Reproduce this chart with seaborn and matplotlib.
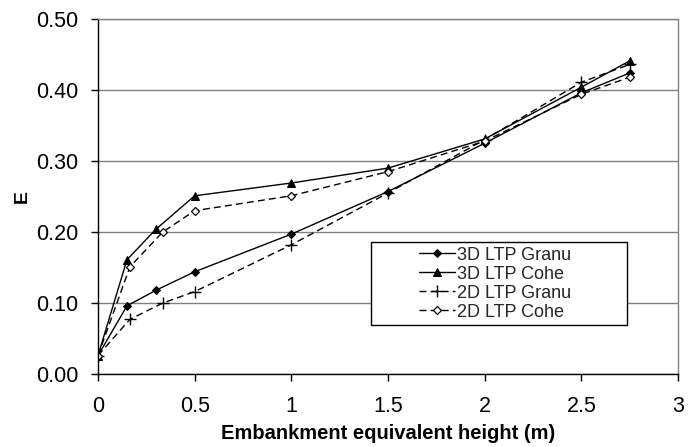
import matplotlib
matplotlib.use("Agg")
import matplotlib.pyplot as plt
from matplotlib.legend_handler import HandlerLine2D
import seaborn as sns
import pandas as pd

# Data
x_3d_granu = [0, 0.15, 0.30, 0.50, 1.0, 1.5, 2.0, 2.5, 2.75]
y_3d_granu = [0.026, 0.096, 0.118, 0.144, 0.197, 0.257, 0.325, 0.396, 0.424]

x_3d_cohe = [0, 0.15, 0.30, 0.50, 1.0, 1.5, 2.0, 2.5, 2.75]
y_3d_cohe = [0.026, 0.161, 0.204, 0.251, 0.269, 0.290, 0.331, 0.404, 0.441]

x_2d_granu = [0, 0.165, 0.335, 0.50, 1.0, 1.5, 2.0, 2.5, 2.75]
y_2d_granu = [0.026, 0.077, 0.100, 0.116, 0.182, 0.255, 0.330, 0.411, 0.436]

x_2d_cohe = [0, 0.165, 0.335, 0.50, 1.0, 1.5, 2.0, 2.5, 2.75]
y_2d_cohe = [0.026, 0.151, 0.200, 0.230, 0.251, 0.285, 0.328, 0.394, 0.418]

series_names = ["3D LTP Granu", "3D LTP Cohe", "2D LTP Granu", "2D LTP Cohe"]
x_ticks = [0, 0.5, 1, 1.5, 2, 2.5, 3]
x_tick_labels = ["0", "0.5", "1", "1.5", "2", "2.5", "3"]
y_ticks = [0.0, 0.1, 0.2, 0.3, 0.4, 0.5]
y_tick_labels = ["0.00", "0.10", "0.20", "0.30", "0.40", "0.50"]

sns.set_theme(style="white")
plt.rcParams["font.family"] = ["Liberation Sans", "DejaVu Sans"]


class ShiftedLineHandler(HandlerLine2D):
    """Draw the legend sample only in the right part of the handle area (Excel-like)."""
    def __init__(self, frac=0.55, **kw):
        super().__init__(**kw)
        self.frac = frac

    def create_artists(self, legend, orig_handle, xdescent, ydescent, width, height, fontsize, trans):
        shift = width * self.frac
        return super().create_artists(legend, orig_handle, xdescent - shift, ydescent,
                                      width - shift, height, fontsize, trans)


fig = plt.figure(figsize=(6.99, 4.47), dpi=100)
ax = fig.add_axes([0.1402, 0.1633, 0.8298, 0.7942])

styles = [
    dict(linestyle="-", marker="D", markersize=4, markerfacecolor="black", markeredgecolor="black"),
    dict(linestyle="-", marker="^", markersize=6, markerfacecolor="black", markeredgecolor="black"),
    dict(linestyle=(0, (5, 3)), marker="+", markersize=8, markerfacecolor="black", markeredgecolor="black", markeredgewidth=1),
    dict(linestyle=(0, (5, 3)), marker="D", markersize=4, markerfacecolor="white", markeredgecolor="black", markeredgewidth=0.9),
]
data = [(x_3d_granu, y_3d_granu), (x_3d_cohe, y_3d_cohe), (x_2d_granu, y_2d_granu), (x_2d_cohe, y_2d_cohe)]

for (xs, ys), name, st in zip(data, series_names, styles):
    df = pd.DataFrame({"x": xs, "y": ys})
    sns.lineplot(data=df, x="x", y="y", ax=ax, color="black", linewidth=1.0,
                 sort=False, label=name, **st)

ax.set_xlim(0, 3)
ax.set_ylim(0, 0.5)
ax.set_xticks(x_ticks)
ax.set_xticklabels(x_tick_labels)
ax.set_yticks(y_ticks)
ax.set_yticklabels(y_tick_labels)
ax.tick_params(axis="both", which="major", direction="out", length=5, width=1,
               color="black", labelsize=15.5, labelcolor="black", bottom=True, left=True)
ax.tick_params(axis="x", pad=11)
ax.tick_params(axis="y", pad=9)
ax.yaxis.grid(True, color="#808080", linewidth=1.0)
ax.xaxis.grid(False)
ax.set_axisbelow(True)

for s in ["left", "bottom"]:
    ax.spines[s].set_color("black")
    ax.spines[s].set_linewidth(1.0)
for s in ["top", "right"]:
    ax.spines[s].set_color("#808080")
    ax.spines[s].set_linewidth(1.0)

ax.set_xlabel("Embankment equivalent height (m)", fontsize=14.5, fontweight="bold", color="black", labelpad=5)
ax.set_ylabel("E", fontsize=14, fontweight="bold", color="black", labelpad=4)

handles, labels = ax.get_legend_handles_labels()
leg = ax.legend(handles, labels, loc="upper left", bbox_to_anchor=(0.4707, 0.3615, 0.4413, 0.01),
                mode="expand", fontsize=13,
                frameon=True, fancybox=False, edgecolor="black", framealpha=1,
                handlelength=4.4, handletextpad=0.1, borderpad=0.25, labelspacing=0.11,
                borderaxespad=0,
                handler_map={h: ShiftedLineHandler(frac=0.55) for h in handles})
leg.get_frame().set_linewidth(1.0)

fig.savefig("out.png", dpi=100)
